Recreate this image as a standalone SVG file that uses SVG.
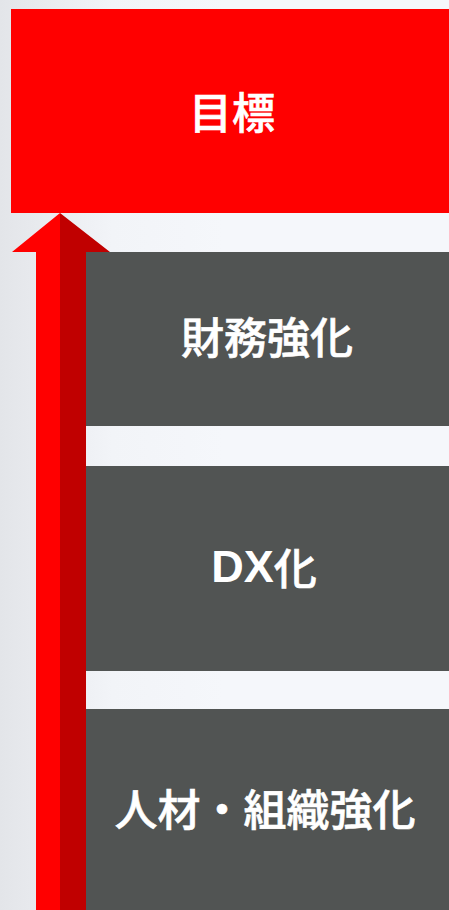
<svg xmlns="http://www.w3.org/2000/svg" width="449" height="910" viewBox="0 0 449 910">
<defs>
<linearGradient id="bgl" x1="0" y1="0" x2="1" y2="0">
<stop offset="0" stop-color="#e3e5e9"/>
<stop offset="0.25" stop-color="#f2f4f8"/>
<stop offset="0.5" stop-color="#f5f7fb"/>
<stop offset="1" stop-color="#f5f7fb"/>
</linearGradient>
<style>
.lbl{font-family:"Noto Sans CJK JP","Noto Sans",sans-serif;font-weight:500;font-size:43px;fill:#ffffff;text-anchor:middle;dominant-baseline:central;stroke:#ffffff;stroke-width:0.6px}
.lat{font-family:"Liberation Sans",Arial,sans-serif;font-weight:700;stroke-width:0}
.gray{fill:#515453}
</style>
</defs>
<rect x="0" y="0" width="449" height="910" fill="url(#bgl)"/>
<g id="goal">
<rect x="11" y="9" width="438" height="204" fill="#ff0000"/>
<text class="lbl" x="232" y="110">目標</text>
</g>
<g id="finance">
<rect class="gray" x="86" y="252" width="363" height="174"/>
<text class="lbl" x="267" y="335">財務強化</text>
</g>
<g id="dx">
<rect class="gray" x="86" y="466" width="363" height="205"/>
<text class="lbl" x="264" y="566"><tspan class="lat" font-size="45">DX</tspan>化</text>
</g>
<g id="hr">
<rect class="gray" x="86" y="709" width="363" height="201"/>
<text class="lbl" x="265" y="807">人材・組織強化</text>
</g>
<g id="connectors">
<polygon points="60,213 12,252 36,252 36,910 60,910" fill="#ff0000"/>
<polygon points="60,213 110,252 86,252 86,910 60,910" fill="#c00000"/>
</g>
</svg>
